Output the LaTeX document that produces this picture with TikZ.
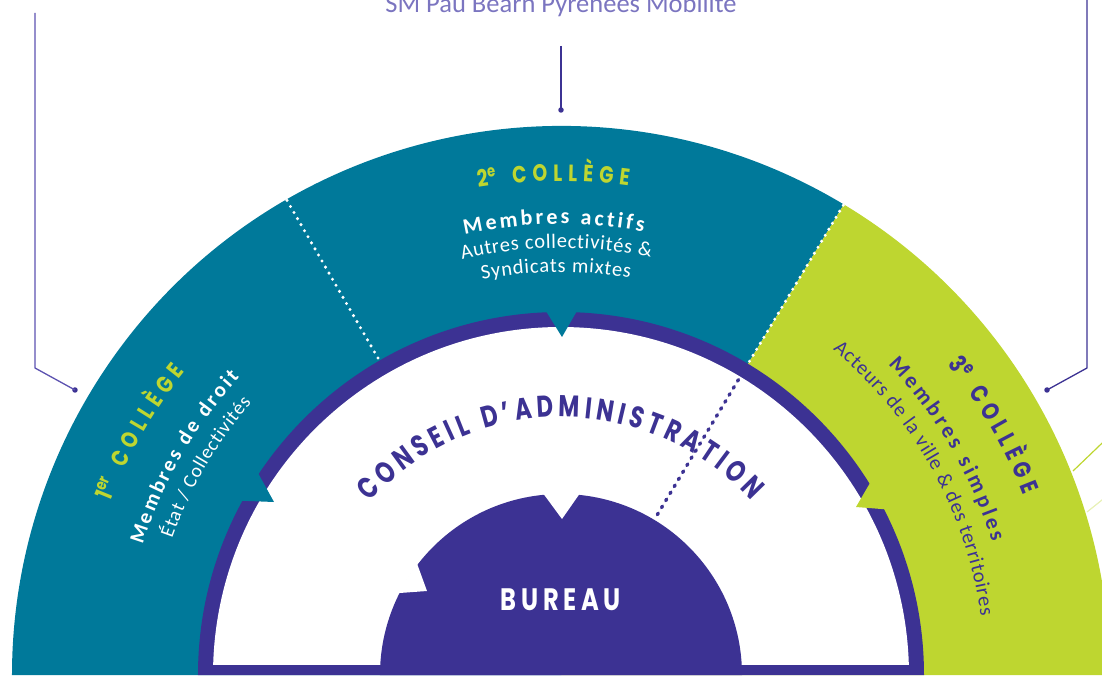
\documentclass[tikz,border=0pt]{standalone}
\usepackage{fontspec}
\setmainfont{Carlito}
\newfontfamily\geo{Poppins}
\newfontfamily\calfont{Carlito}
\definecolor{cTeal}{RGB}{0,121,154}
\definecolor{cGreen}{RGB}{190,214,48}
\definecolor{cPurple}{RGB}{60,50,147}
\definecolor{cTitle}{RGB}{123,117,192}
\definecolor{cLine}{RGB}{92,82,176}
\makeatletter
\newcount\atcnt
\newbox\atbox
% measure width of #2 in font #1, times #3, into \at@w
\newcommand\atmeasure[3]{%
  \pgfinterruptpicture
    \global\setbox\atbox=\hbox{#1#2}%
    \xdef\at@raw{\strip@pt\wd\atbox}%
  \endpgfinterruptpicture
  \pgfmathsetmacro\at@w{\at@raw*#3}%
}
% #1 baseline radius, #2 angle of first char centre, #3 angle of last char centre,
% #4 font, #5 colour, #6 xscale, #7 list of characters
\newcommand\ArcText[7]{%
  \gdef\at@sum{0}\gdef\at@n{0}\gdef\at@wf{0}\gdef\at@wl{0}%
  \foreach \ch in {#7}{%
    \atmeasure{#4}{\ch}{#6}%
    \pgfmathsetmacro\at@t{\at@sum+\at@w}\xdef\at@sum{\at@t}%
    \pgfmathtruncatemacro\at@k{\at@n+1}\xdef\at@n{\at@k}%
    \ifnum\at@n=1 \xdef\at@wf{\at@w}\fi
    \xdef\at@wl{\at@w}%
  }%
  \pgfmathsetmacro\at@D{(#2-#3)*pi/180*#1}%
  \pgfmathsetmacro\at@s{(\at@D-(\at@sum-\at@wf/2-\at@wl/2))/(\at@n-1)}%
  \xdef\at@sp{\at@s}%
  \gdef\at@c{0}\gdef\at@pw{-1}%
  \foreach \ch in {#7}{%
    \atmeasure{#4}{\ch}{#6}%
    \ifdim\at@pw pt<0pt\relax\else
      \pgfmathsetmacro\at@t{\at@c+\at@pw/2+\at@sp+\at@w/2}\xdef\at@c{\at@t}%
    \fi
    \xdef\at@pw{\at@w}%
    \pgfmathsetmacro\at@a{#2-\at@c/#1*180/pi}%
    \global\advance\atcnt by 1
    \node[name=ch\the\atcnt, font=#4, text=#5, inner sep=0pt, anchor=base,
          rotate=\at@a-90, xscale=#6] at (\at@a:#1) {\ch};
  }%
}
\makeatother
\begin{document}
\begin{tikzpicture}[x=1pt,y=1pt,
  conn/.style={line width=1.3pt, draw=cPurple},
  dotnode/.style={circle, fill=cPurple, inner sep=0pt, minimum size=5.5pt},
  whitedots/.style={draw=white, line width=3.4pt, line cap=round, dash pattern=on 0pt off 7pt},
  purpledots/.style={draw=cPurple, line width=3.4pt, line cap=round, dash pattern=on 1.8pt off 6.4pt},
]
\path[use as bounding box] (-561,0) rectangle (541,675);
\clip (-561,0) rectangle (541,675);
% colleges
\fill[cTeal] (0,0) -- (59:549) arc[start angle=59, end angle=180, radius=549] -- cycle;
\fill[cGreen] (0,0) -- (0:549) arc[start angle=0, end angle=59, radius=549] -- cycle;
\draw[whitedots] (120:366) -- (120:549);
\draw[whitedots] (59:366) -- (59:549);
% ring
\fill[cPurple] (-363,0) arc[start angle=180, end angle=0, radius=363] -- cycle;
\fill[white] (178.35:348) arc[start angle=178.35, end angle=1.65, radius=348] -- cycle;
\fill[cTeal] (146:368) -- (-287,173) -- (151.7:368) -- cycle;
\fill[cTeal] (92.7:368) -- (1,338) -- (87.2:368) -- cycle;
\fill[cGreen] (32.2:368) -- (295,168) -- (26.7:368) -- cycle;
\draw[purpledots] (59:187) -- (59:350);
% bureau
\fill[cPurple] (-181,0) arc[start angle=180, end angle=0, radius=181] -- cycle;
\fill[white] (-17.8,181.5) -- (1,156) -- (18.8,181.5) -- cycle;
\fill[white] (-144,111.5) -- (-134,84) -- (-164,81.8) -- cycle;
\node[font=\geo\bfseries\fontsize{31}{31}\selectfont, text=white, xscale=0.78, inner sep=0pt]
  (bureau) at (0,75) {B\kern6pt U\kern6pt R\kern6pt E\kern6pt A\kern6pt U};
% texts
\ArcText{258}{135.9}{44.4}{\geo\bfseries\fontsize{30}{30}\selectfont}{cPurple}{0.76}{C,O,N,S,E,I,L,~,D,’,A,D,M,I,N,I,S,T,R,A,T,I,O,N}
\ArcText{494}{98.5}{82.7}{\geo\bfseries\fontsize{23.5}{23.5}\selectfont}{cGreen}{0.8}{{2\textsuperscript{e}},~,C,O,L,L,È,G,E}
\ArcText{451}{101.1}{80.0}{\calfont\bfseries\fontsize{22}{22}\selectfont}{white}{1}{M,e,m,b,r,e,s,~,a,c,t,i,f,s}
\ArcText{427}{102.6}{78.8}{\calfont\fontsize{20.5}{20.5}\selectfont}{white}{1}{A,u,t,r,e,s,~,c,o,l,l,e,c,t,i,v,i,t,é,s,~,\&}
\ArcText{403}{100.6}{80.7}{\calfont\fontsize{20.5}{20.5}\selectfont}{white}{1}{S,y,n,d,i,c,a,t,s,~,m,i,x,t,e,s}
\ArcText{483}{157.7}{141.7}{\geo\bfseries\fontsize{23.5}{23.5}\selectfont}{cGreen}{0.8}{{1\textsuperscript{er}},~,C,O,L,L,È,G,E}
\ArcText{438}{161.5}{137.7}{\calfont\bfseries\fontsize{21}{21}\selectfont}{white}{1}{M,e,m,b,r,e,s,~,d,e,~,d,r,o,i,t}
\ArcText{412}{160}{139.2}{\calfont\fontsize{19.5}{19.5}\selectfont}{white}{1}{É,t,a,t,~,/,~,C,o,l,l,e,c,t,i,v,i,t,é,s}
\ArcText{496}{37.6}{21.9}{\geo\bfseries\fontsize{24.5}{24.5}\selectfont}{cPurple}{0.8}{{3\textsuperscript{e}},~,C,O,L,L,È,G,E}
\ArcText{451}{42.3}{17.7}{\calfont\bfseries\fontsize{22}{22}\selectfont}{cPurple}{1}{M,e,m,b,r,e,s,~,s,i,m,p,l,e,s}
\ArcText{424}{49.3}{8.5}{\calfont\fontsize{20.5}{20.5}\selectfont}{cPurple}{1}{A,c,t,e,u,r,s,~,d,e,~,l,a,~,v,i,l,l,e,~,\&,~,d,e,s,~,t,e,r,r,i,t,o,i,r,e,s}
% side lines
\draw[cGreen, line width=1.2pt] (512,204) -- (561,251);
\draw[cGreen!35, line width=1.2pt] (526,163) -- (561,191);
% title and connectors
\node[font=\calfont\fontsize{26.5}{26.5}\selectfont, text=cTitle, anchor=base, inner sep=0pt]
  (title) at (0,662) {SM Pau Bearn Pyrenees Mobilite};
\coordinate (lTop) at (-526,662);
\coordinate (lBend) at (-526,307);
\node[dotnode] (lDot) at (-486,285) {};
\draw[conn, draw=cLine] (lTop) -- (lBend) -- (lDot.center);
\coordinate (rTop) at (526,680);
\coordinate (rBend) at (526,307);
\node[dotnode] (rDot) at (486,285) {};
\draw[conn] (rTop) -- (rBend) -- (rDot.center);
\coordinate (mTop) at (0,629);
\node[dotnode] (mDot) at (0,565) {};
\draw[conn] (mTop) -- (mDot.center);
\end{tikzpicture}
\end{document}
